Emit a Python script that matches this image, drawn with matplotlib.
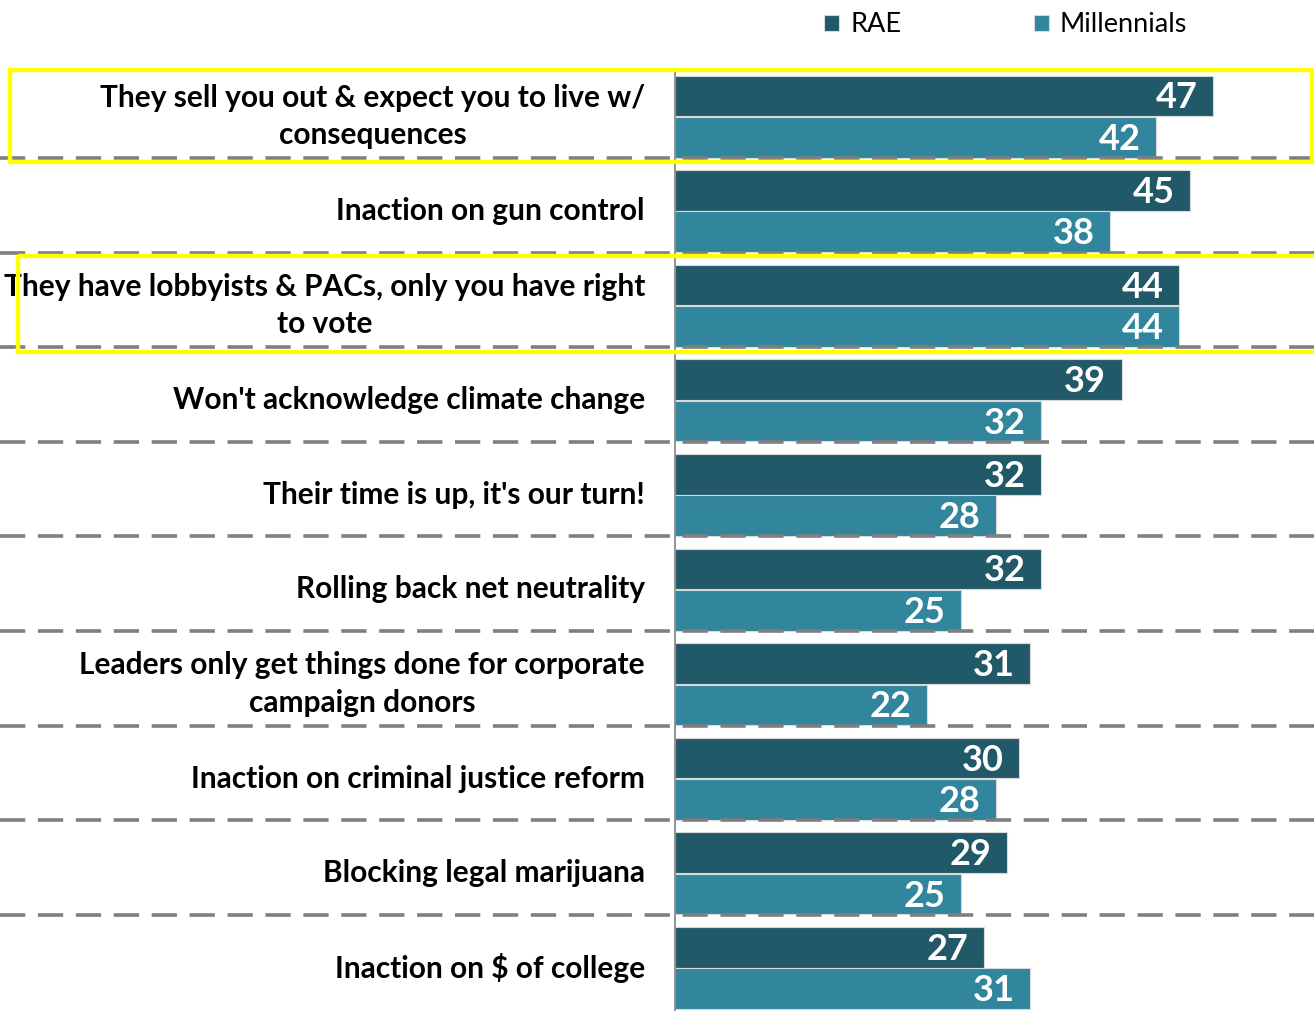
import matplotlib.pyplot as plt
import matplotlib.transforms as mtransforms
from matplotlib.patches import Rectangle

# data
categories = [
    "They sell you out & expect you to live w/\nconsequences",
    "Inaction on gun control",
    "They have lobbyists & PACs, only you have right\nto vote",
    "Won't acknowledge climate change",
    "Their time is up, it's our turn!",
    "Rolling back net neutrality",
    "Leaders only get things done for corporate\ncampaign donors",
    "Inaction on criminal justice reform",
    "Blocking legal marijuana",
    "Inaction on $ of college",
]
rae = [47, 45, 44, 39, 32, 32, 31, 30, 29, 27]
millennials = [42, 38, 44, 32, 28, 25, 22, 28, 25, 31]
highlighted = [0, 2]

c_rae = "#215968"
c_mil = "#31859C"
font = "Lato"

W, H = 1314, 1011
fig = plt.figure(figsize=(W / 100, H / 100), dpi=100)
ax = fig.add_axes([675 / W, 1 - 1009.5 / H, 1 - 675 / W, (1009.5 - 63.4) / H])

n = len(categories)
ys = list(range(n))
bh = 0.43
ax.barh([y + 0.343 for y in ys], rae, height=bh, color=c_rae,
        edgecolor="#d9d9d9", linewidth=0.8, label="RAE")
ax.barh([y + 0.78 for y in ys], millennials, height=bh, color=c_mil,
        edgecolor="#d9d9d9", linewidth=0.8, label="Millennials")

for y, a, b in zip(ys, rae, millennials):
    for val, yy in ((a, y + 0.343), (b, y + 0.78)):
        ax.annotate(str(val), (val, yy), xytext=(-11, -1.5), textcoords="offset points",
                    ha="right", va="center", color="white", fontsize=26,
                    fontweight="bold", family=font)

ax.set_xlim(0, (W - 675) / 11.45)
ax.set_ylim(n, 0)
ax.set_xticks([])
ax.set_yticks([])
for s in ["top", "right", "bottom"]:
    ax.spines[s].set_visible(False)
ax.spines["left"].set_color("#808080")
ax.spines["left"].set_linewidth(1.2)
ax.spines["left"].set_bounds(n, 0.08)

# category labels
trans = mtransforms.blended_transform_factory(fig.transFigure, ax.transData)
for y, cat in zip(ys, categories):
    ax.text(645 / W, y + 0.56, cat, transform=trans, ha="right", va="center",
            multialignment="center", fontsize=21.5, fontweight="bold",
            family=font, linespacing=1.4)

# dashed separators across the whole width
for y in range(1, n):
    ax.plot([0, 1], [y, y], transform=trans, color="#7f7f7f", lw=2.6,
            ls=(0, (7, 3.5)), clip_on=False, zorder=1)

# yellow highlight boxes
boxes = {0: (10, 1312, 0.07, 1.042), 2: (18, 1330, 0.036, 1.05)}
for i in highlighted:
    x0, x1, t, b = boxes[i]
    ax.add_patch(Rectangle((x0 / W, i + t), (x1 - x0) / W, b - t, transform=trans,
                           fill=False, edgecolor="#FFFF00", lw=3.2,
                           clip_on=False, zorder=5))

fig.legend(loc="upper left", bbox_to_anchor=(800 / W, 1 + 12 / H), ncol=2,
           frameon=False, prop={"family": font, "size": 19.5},
           handlelength=0.55, handleheight=0.55, handletextpad=0.4,
           columnspacing=4.9)

fig.savefig("out.png", dpi=100)
